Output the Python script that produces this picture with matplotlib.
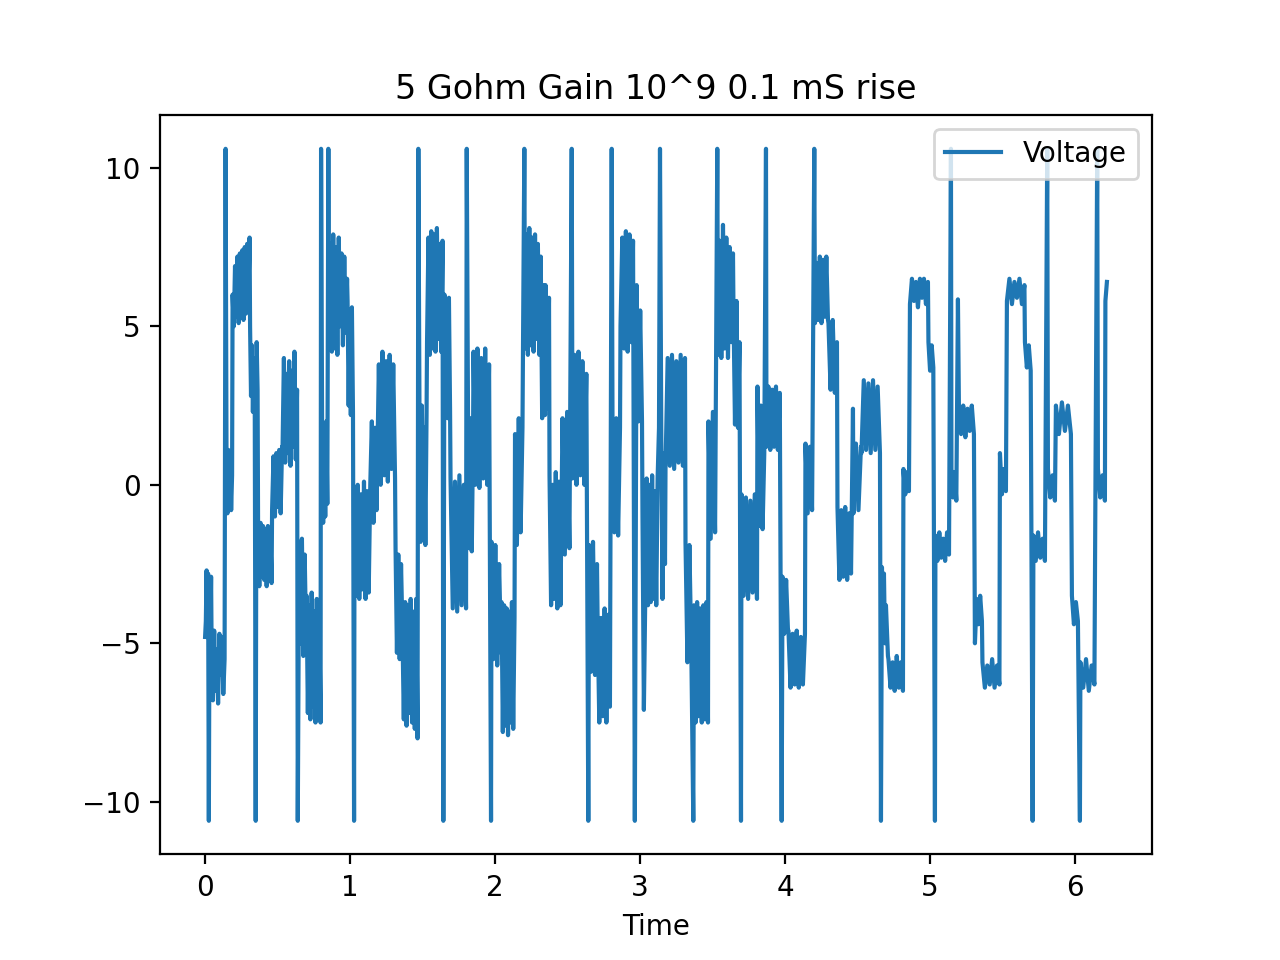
import numpy as np
import matplotlib
matplotlib.use('Agg')
import matplotlib.pyplot as plt

# 每段的起止时间 (s)
seg_t0 = [0.000, 0.0448, 0.1414, 0.1897, 0.3103, 0.3655, 0.4621, 0.5345, 0.6393, 0.700,
          0.800, 0.8552, 0.9828, 1.0310, 1.1862, 1.3138, 1.4710, 1.5310, 1.6434, 1.6931,
          1.8048, 1.8517, 1.9759, 2.0448, 2.1379, 2.2069, 2.3483, 2.3759, 2.4655, 2.5345,
          2.6483, 2.7069, 2.8103, 2.8655, 3.0172, 3.1379, 3.1759, 3.3138, 3.3724, 3.4724,
          3.5379, 3.6448, 3.700, 3.8103, 3.8724, 3.9828, 4.0241, 4.1414, 4.2069, 4.300,
          4.3621, 4.4724, 4.5276, 4.6621, 4.7138, 4.8172, 4.8621, 4.9897, 5.0379, 5.1483,
          5.200, 5.3103, 5.3621, 5.4828, 5.5310, 5.6552, 5.7138, 5.8138, 5.8690, 5.9793,
          6.0379, 6.1586, 6.2103]
seg_t1 = [0.0414, 0.1345, 0.1862, 0.3069, 0.3621, 0.4586, 0.5310, 0.6345, 0.6966, 0.7966,
          0.8503, 0.9793, 1.0276, 1.1828, 1.3103, 1.4655, 1.5276, 1.6379, 1.6897, 1.800,
          1.8483, 1.9724, 2.0414, 2.1345, 2.2021, 2.3448, 2.3724, 2.4621, 2.5290, 2.6434,
          2.7034, 2.8048, 2.8621, 3.0138, 3.1310, 3.1724, 3.3103, 3.3676, 3.4690, 3.5331,
          3.6414, 3.6966, 3.8069, 3.8690, 3.9772, 4.0207, 4.1379, 4.2021, 4.2966, 4.3586,
          4.4690, 4.5241, 4.6552, 4.7103, 4.8138, 4.8552, 4.9862, 5.0345, 5.1448, 5.1931,
          5.3034, 5.3586, 5.4793, 5.5241, 5.6517, 5.7083, 5.8090, 5.8621, 5.9724, 6.0345,
          6.1538, 6.2069, 6.2207]

# 每段读出的电压值 (V)
seg_v = [
    [-4.8, -4.3, -2.7, -4.6, -2.8, -10.6, -3.0, -4.7, -2.9],
    [-5.0, -6.8, -4.6, -6.5, -5.2, -6.9, -4.7, -6.0, -4.8, -6.6, -5.5],
    [10.6, 0.8, -0.9, 1.1, -0.5, 0.9, -0.8, 0.3],
    [6.0, 5.0, 6.9, 5.3, 7.2, 5.1, 7.3, 5.5, 7.4, 5.2, 7.5, 5.4, 7.6, 5.9, 7.8],
    [5.0, 2.8, 4.4, 2.3, 4.0, 2.4, -10.6, 4.5, 3.0],
    [-1.3, -3.2, -1.2, -2.9, -1.3, -3.0, -1.4, -3.2, -1.3, -2.8, -1.5, -3.1],
    [-0.8, 0.9, -1.0, 1.0, -0.7, 1.1, -0.9, 1.2],
    [1.2, 4.0, 0.7, 3.5, 1.0, 3.9, 0.6, 3.6, 1.2, 4.2, 0.8, 3.0],
    [-10.6, -1.8, -5.0, -1.7, -5.4, -2.2, -4.8],
    [-3.5, -7.2, -3.8, -7.4, -3.4, -7.0, -4.0, -7.5, -3.6, -7.3, -4.2, -7.5],
    [10.6, 1.9, -1.2, 1.5, -1.0, 2.0, -0.6, 10.6],
    [4.5, 7.6, 4.2, 7.9, 4.3, 7.5, 4.1, 7.8, 5.0, 7.3, 4.4, 7.2, 4.8, 6.5],
    [5.8, 2.5, 5.5, 2.2, 5.6, 2.3, -10.6],
    [-0.2, -3.5, 0.0, -3.6, -0.3, -3.3, 0.1, -3.6, -0.2, -3.4, 0.0, 2.0, -1.2, 1.8, -0.8],
    [0.2, 3.8, 0.0, 4.2, 0.3, 3.9, 0.1, 4.1, 0.5, 3.8, 0.2],
    [-2.0, -5.3, -2.2, -5.5, -2.5, -4.6, -7.4, -3.7, -7.6, -3.8, -7.2, -3.6, -7.5, -4.0, -7.7, -3.6, -8.0],
    [10.6, 2.0, -1.8, 2.5, -1.5, 1.8, -1.9, 2.2],
    [4.5, 7.8, 4.1, 8.0, 4.3, 7.9, 4.2, 8.1, 4.6, 7.6, 4.2, 7.7],
    [-10.6, 6.0, 2.2, 5.8, 2.1, 5.9, 2.4],
    [0.2, -3.9, 0.1, -4.0, 0.3, -3.8, 0.0, -3.9],
    [10.6, 2.3, -2.0, 2.1, -2.1, 1.5],
    [4.2, 0.0, 4.3, -0.1, 4.0, 0.2, 4.3, 0.0, 3.8, -10.6],
    [-1.8, -5.5, -1.9, -5.7, -2.5, -5.3],
    [-3.7, -7.8, -3.8, -7.6, -3.9, -7.9, -4.0, -7.5, -3.7, -7.7, -4.2],
    [1.6, -1.9, 2.1, -1.5, 1.8, 10.6],
    [4.3, 7.9, 4.1, 8.1, 4.4, 7.8, 4.2, 7.9, 4.6, 7.6, 4.1, 7.2, 2.1, 6.3, 2.2],
    [6.3, 2.4, 5.9],
    [0.3, -3.8, 0.0, -3.6, 0.4, -3.9, 0.1, -3.8, 0.5],
    [2.1, -2.2, 2.3, -2.0, 10.6],
    [0.2, 4.1, 0.0, 4.2, 0.3, 3.9, 0.0, 3.5, -10.6],
    [-1.9, -5.9, -1.8, -6.0, -2.5],
    [-4.0, -7.5, -4.2, -7.3, -3.9, -7.5, -4.1, -7.0, 10.6],
    [1.9, -1.5, 2.1, -1.6, 1.8],
    [5.0, 7.8, 4.3, 8.0, 4.2, 7.9, 4.5, 7.7, -10.6, 6.3, 2.0, 5.5, 2.0],
    [-1.0, -7.1, -3.6, 0.2, -3.8, 0.0, -3.7, 0.3, -3.6, -0.2, -3.8, 0.2, 1.8],
    [10.6, 1.8, -3.6, 1.0, -2.5],
    [0.5, 4.0, 0.6, 4.1, 0.5, 3.9, 0.7, 4.1, 0.6, 4.0],
    [-1.8, -5.6, -1.9, -5.3, -10.6],
    [-3.8, -7.5, -3.7, -7.3, -3.9, -7.5, -3.8, -7.4, -3.7, -7.5],
    [2.0, -1.7, 2.3, -1.5, 10.6],
    [4.1, 7.7, 4.0, 8.2, 4.3, 7.8, 4.0, 7.5, 4.5, 7.3],
    [5.5, 1.9, 5.8, 1.8, 4.5, -10.6],
    [-0.3, -3.5, -0.4, -3.6, -0.5, -3.4, -0.3, -3.6],
    [3.1, -1.3, 2.5, -1.4, 1.0, 10.6],
    [1.2, 3.1, 1.1, 3.0, 1.2, 3.1, 1.1, 2.9, -10.6],
    [-2.9, -4.7, -3.0, -4.6],
    [-4.6, -6.4, -4.7, -6.3, -4.6, -6.4, -4.8, -6.3, -4.7],
    [1.3, -0.9, 1.2, -0.8, 10.6],
    [5.1, 7.0, 5.2, 7.2, 5.1, 7.1, 5.3, 7.2, 5.2],
    [5.1, 3.0, 5.2, 2.9, 4.5],
    [-0.7, -3.0, -0.8, -2.9, -0.7, -3.0, -0.9, -2.8, 2.4],
    [-0.9, 1.3, -0.8, 1.2],
    [1.0, 3.3, 1.1, 3.2, 1.0, 3.3, 1.1, 3.1, 1.0],
    [-10.6, -2.6, -4.8, -2.8, -5.0, -3.8, -4.6, -5.4],
    [-5.5, -6.4, -5.6, -6.5, -5.4, -6.4, -5.6, -6.5],
    [0.5, -0.3, 0.4, -0.2],
    [5.7, 6.5, 5.8, 6.4, 5.6, 6.5, 5.9, 6.5, 5.7, 6.4],
    [4.5, 3.6, 4.4, 3.7, -10.6],
    [-1.6, -2.4, -1.5, -2.3, -1.7, -2.4, -1.5, -2.2, 10.6],
    [0.5, -0.4, 0.4, -0.5, 5.85],
    [2.4, 1.6, 2.5, 1.5, 2.4, 1.7, 2.5, 1.6],
    [-5.0, -3.6, -4.4, -3.5, -4.3],
    [-5.6, -6.4, -5.7, -6.3, -5.5, -6.4, -5.7, -6.3],
    [1.0, -0.3, 0.5, -0.2],
    [5.8, 6.5, 5.7, 6.4, 5.9, 6.5, 5.7, 6.3],
    [4.5, 3.7, 4.4, 3.6, -10.6],
    [-1.6, -2.4, -1.5, -2.3, -1.7, -2.4, 10.6],
    [0.5, -0.4, 0.3, -0.5],
    [2.5, 1.6, 2.6, 1.7, 2.5, 1.6],
    [-3.5, -4.4, -3.7, -4.3, -10.6],
    [-5.6, -6.4, -5.5, -6.5, -5.7, -6.3, 10.6],
    [0.5, -0.4, 0.3, -0.5],
    [5.8, 6.4],
]

# 拼接成一条时间序列
time = []
volt = []
for t0, t1, vs in zip(seg_t0, seg_t1, seg_v):
    time.extend(np.linspace(t0, t1, len(vs)))
    volt.extend(vs)

fig = plt.figure(figsize=(6.4, 4.8), dpi=200)
plt.plot(time, volt, label='Voltage')
plt.title('5 Gohm Gain 10^9 0.1 mS rise')
plt.xlabel('Time')
plt.legend(loc='upper right')
plt.savefig('out.png')
